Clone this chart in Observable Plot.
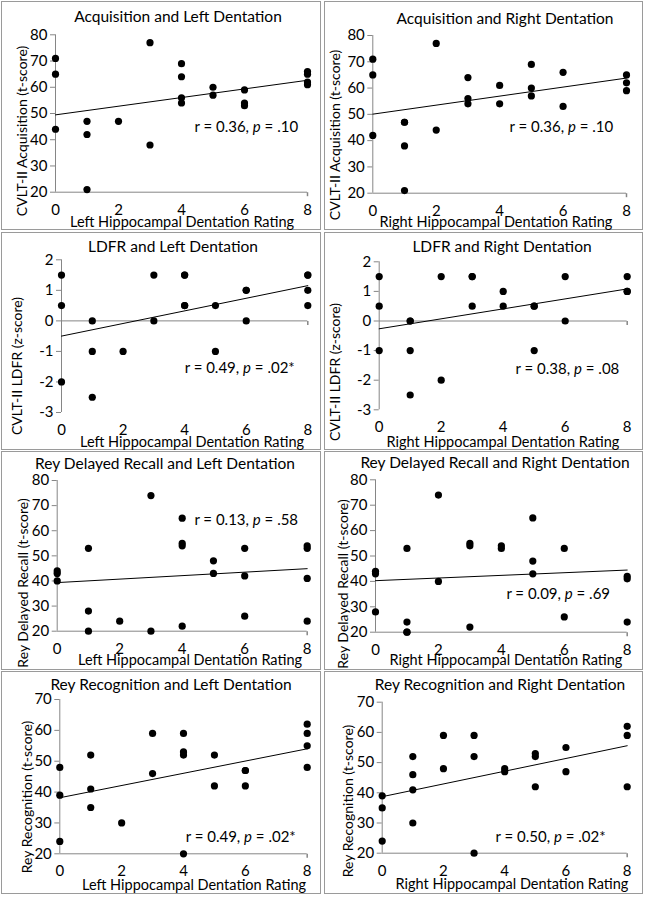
<!DOCTYPE html>
<html><head><meta charset="utf-8">
<script src="https://cdn.jsdelivr.net/npm/d3@7"></script>
<script src="https://cdn.jsdelivr.net/npm/@observablehq/plot@0.6"></script>
<style>
body{margin:0;background:#fff;}
#chart{position:relative;width:645px;height:900px;font-family:Lato,sans-serif;color:#000;overflow:hidden;}
.panel{position:absolute;outline:1px solid #9a9a9a;}
.panel svg{position:absolute;left:0;top:0;overflow:visible;}
.lbl{position:absolute;white-space:nowrap;transform:translate(-50%,-50%);line-height:1;}
.ylbl{transform:translate(-50%,-50%) rotate(-90deg);}
</style></head><body><div id="chart"></div>
<script>
// Hippocampal dentation ratings (x), left and right sides
const leftRating  = [0,0,0,1,1,1,2,3,3,4,4,4,4,5,5,6,6,6,8,8,8,8];
const rightRating = [0,0,0,1,1,1,1,2,2,3,3,3,4,4,5,5,5,6,6,8,8,8];
const xTicks = [0,2,4,6,8];

// CVLT-II Acquisition (t-score)
const acqLeft  = [71,65,44,47,42,21,47,77,38,69,64,56,54,60,57,59,54,53,66,65,62,61];
const acqRight = [71,65,42,47,47,38,21,77,44,64,56,54,61,54,69,60,57,66,53,65,62,59];
// CVLT-II LDFR (z-score)
const ldfrLeft  = [1.5,0.5,-2,0,-1,-2.5,-1,1.5,0,1.5,0.5,1.5,0.5,0.5,-1,1,0,1,1.5,1,0.5,1.5];
const ldfrRight = [1.5,0.5,-1,0,0,-1,-2.5,1.5,-2,1.5,1.5,0.5,1,0.5,0.5,0.5,-1,1.5,0,1.5,1,1];
// Rey Delayed Recall (t-score)
const reyDelLeft  = [44,43,40,53,28,20,24,74,20,65,55,54,22,48,43,53,42,26,54,53,41,24];
const reyDelRight = [44,43,28,53,24,20,20,74,40,55,54,22,54,53,65,48,43,53,26,42,41,24];
// Rey Recognition (t-score)
const reyRecLeft  = [48,39,24,52,41,35,30,59,46,59,53,52,20,52,42,47,47,42,62,59,55,48];
const reyRecRight = [39,35,24,52,46,41,30,59,48,59,52,20,48,47,53,52,42,55,47,62,59,42];

const tTicks80 = [20,30,40,50,60,70,80];
const tTicks70 = [20,30,40,50,60,70];
const zTicks = [-3,-2,-1,0,1,2];

const titles = ["Acquisition and Left Dentation","Acquisition and Right Dentation",
  "LDFR and Left Dentation","LDFR and Right Dentation",
  "Rey Delayed Recall and Left Dentation","Rey Delayed Recall and Right Dentation",
  "Rey Recognition and Left Dentation","Rey Recognition and Right Dentation"];
const xLabels = ["Left Hippocampal Dentation Rating","Right Hippocampal Dentation Rating"];
const yLabels = ["CVLT-II Acquisition (t-score)","CVLT-II LDFR (z-score)","Rey Delayed Recall (t-score)","Rey Recognition (t-score)"];
const stats = ["r = 0.36, p = .10","r = 0.36, p = .10","r = 0.49, p = .02*","r = 0.38, p = .08",
  "r = 0.13, p = .58","r = 0.09, p = .69","r = 0.49, p = .02*","r = 0.50, p = .02*"];

// layout (pixels) and annotation anchors (data units)
const panels = [
  {xs:leftRating, ys:acqLeft, yDomain:[20,80], yTicks:tTicks80, axisAt:20, box:[2,2,318,227], m:[32.3,13,37.3,53], statAt:[4.41,44.7], t:[178,17], xl:[182,222], yl:[22,131]},
  {xs:rightRating, ys:acqRight, yDomain:[20,80], yTicks:tTicks80, axisAt:20, box:[325,2,317,227], m:[33,16,36.3,47.3], statAt:[4.31,45], t:[505,19], xl:[496,222], yl:[335,135]},
  {xs:leftRating, ys:ldfrLeft, yDomain:[-3,2], yTicks:zTicks, axisAt:0, box:[2,233,318,216], m:[26.3,12.7,37,59], statAt:[4.0,-1.55], t:[173,247], xl:[192,442], yl:[17,366]},
  {xs:rightRating, ys:ldfrRight, yDomain:[-3,2], yTicks:zTicks, axisAt:0, box:[325,233,317,216], m:[28.3,15.3,39.7,53.7], statAt:[4.4,-1.63], t:[502,247], xl:[503,442], yl:[335,372]},
  {xs:leftRating, ys:reyDelLeft, yDomain:[20,80], yTicks:tTicks80, axisAt:20, box:[2,452,318,217], m:[28,13.3,38.3,54.7], statAt:[4.39,64.1], t:[165,464], xl:[190,660], yl:[23,583]},
  {xs:rightRating, ys:reyDelRight, yDomain:[20,80], yTicks:tTicks80, axisAt:20, box:[325,452,317,217], m:[27.3,15.3,37.3,50], statAt:[4.16,35.1], t:[495,463], xl:[506,660], yl:[343,584]},
  {xs:leftRating, ys:reyRecLeft, yDomain:[20,70], yTicks:tTicks70, axisAt:20, box:[2,672,318,221], m:[27,13.3,39.7,57.3], statAt:[4.07,25.4], t:[171,685], xl:[194,885], yl:[27,797]},
  {xs:rightRating, ys:reyRecRight, yDomain:[20,70], yTicks:tTicks70, axisAt:20, box:[325,672,317,221], m:[29.7,15.3,40.3,56.7], statAt:[3.7,25.3], t:[500,685], xl:[512,884], yl:[348,801]}
];

const gray = "#868686";
const endTick = {draw(ctx){ctx.moveTo(0,0); ctx.lineTo(0,4);}};
const chart = document.getElementById("chart");

function addLabel(text, pos, size, cls) {
  const d = document.createElement("div");
  d.className = "lbl" + (cls ? " " + cls : "");
  d.style.left = pos[0] + "px"; d.style.top = pos[1] + "px";
  d.style.fontSize = size + "px";
  d.textContent = text;
  chart.appendChild(d);
}

panels.forEach((p, i) => {
  const [bx, by, bw, bh] = p.box;
  const div = document.createElement("div");
  div.className = "panel";
  Object.assign(div.style, {left: bx + "px", top: by + "px", width: bw + "px", height: bh + "px"});
  const data = p.xs.map((x, k) => ({x, y: p.ys[k]}));
  const svg = Plot.plot({
    width: bw, height: bh,
    marginTop: p.m[0], marginRight: p.m[1], marginBottom: p.m[2], marginLeft: p.m[3],
    style: {fontFamily: "Lato, sans-serif", fontSize: "15px", color: "#000", background: "transparent", overflow: "visible"},
    x: {domain: [0, 8], ticks: xTicks, tickSize: 0, tickPadding: 12, tickFormat: d => String(d), label: null},
    y: {domain: p.yDomain, ticks: p.yTicks, tickSize: 5, tickPadding: 3, tickFormat: d => String(d), label: null},
    marks: [
      Plot.ruleX([0], {y1: p.yDomain[0], y2: p.yDomain[1], stroke: gray}),
      Plot.ruleY([p.axisAt], {x1: 0, x2: 8, stroke: gray}),
      Plot.dot([8], {x: d => d, y: () => p.axisAt, symbol: endTick, r: 4, stroke: gray, fill: "none"}),
      Plot.linearRegressionY(data, {x: "x", y: "y", ci: 0, stroke: "#000", strokeWidth: 1}),
      Plot.dot(data, {x: "x", y: "y", r: 3.6, fill: "#000", stroke: "none"}),
      Plot.text([stats[i]], {x: () => p.statAt[0], y: () => p.statAt[1], text: d => d, textAnchor: "start", fontSize: 15, fill: "#000"})
    ]
  });
  // gray axis strokes
  svg.querySelectorAll('g[aria-label*="axis"]').forEach(g => {
    if (g.getAttribute("stroke")) g.setAttribute("stroke", gray);
    g.querySelectorAll("line,path").forEach(e => e.setAttribute("stroke", gray));
  });
  // italic p in the statistic
  svg.querySelectorAll("text").forEach(t => {
    if (t.textContent === stats[i]) {
      const m = stats[i].match(/^(.*, )p( = .*)$/);
      if (!m) return;
      while (t.firstChild) t.removeChild(t.firstChild);
      t.style.whiteSpace = "pre";
      t.appendChild(document.createTextNode(m[1]));
      const ts = document.createElementNS("http://www.w3.org/2000/svg", "tspan");
      ts.setAttribute("font-style", "italic");
      ts.textContent = "p";
      t.appendChild(ts);
      t.appendChild(document.createTextNode(m[2]));
    }
  });
  div.appendChild(svg);
  chart.appendChild(div);
  addLabel(titles[i], p.t, 15.5);
  addLabel(xLabels[i % 2], p.xl, 14.5);
  addLabel(yLabels[Math.floor(i / 2)], p.yl, 14, "ylbl");
});
</script></body></html>
